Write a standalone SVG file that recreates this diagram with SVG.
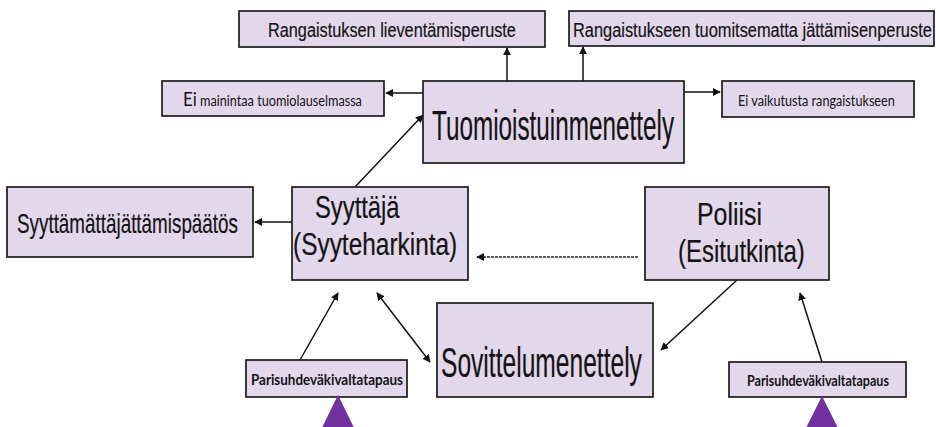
<svg xmlns="http://www.w3.org/2000/svg" width="936" height="427" viewBox="0 0 936 427">
<defs>
<style>
.box{fill:#e3d7ec;stroke:#1c1c1c;stroke-width:1.7}
.t{font-family:"Liberation Sans",Arial,sans-serif;fill:#141414;stroke:#141414;stroke-width:0.2}
.c{font-family:Lato,"Liberation Sans",sans-serif;fill:#141414}
.ln{stroke:#111;stroke-width:1.5;fill:none}
.tri{fill:#7030a0}
</style>
<marker id="ah" viewBox="0 0 10 10" refX="9" refY="5" markerWidth="8" markerHeight="8" markerUnits="userSpaceOnUse" orient="auto-start-reverse">
<path d="M0,0 L10,5 L0,10 z" fill="#111"/>
</marker>
</defs>
<rect width="936" height="427" fill="#fff"/>
<g id="connectors">
<line class="ln" x1="507" y1="81" x2="507" y2="48" marker-end="url(#ah)"/>
<line class="ln" x1="583" y1="81" x2="583" y2="47" marker-end="url(#ah)"/>
<line class="ln" x1="423" y1="93" x2="386" y2="93" marker-end="url(#ah)"/>
<line class="ln" x1="684" y1="92" x2="720" y2="92" marker-end="url(#ah)"/>
<line class="ln" x1="355" y1="187" x2="423" y2="115" marker-end="url(#ah)"/>
<line class="ln" x1="292" y1="222" x2="255" y2="222" marker-end="url(#ah)"/>
<line x1="638" y1="257" x2="477" y2="257" stroke="#222" stroke-width="1.5" stroke-dasharray="3,1" marker-end="url(#ah)"/>
<line class="ln" x1="300" y1="360" x2="338" y2="293" marker-end="url(#ah)"/>
<line class="ln" x1="377" y1="293" x2="430" y2="362" marker-start="url(#ah)" marker-end="url(#ah)"/>
<line class="ln" x1="737" y1="280" x2="661" y2="350" marker-end="url(#ah)"/>
<line class="ln" x1="822" y1="362" x2="800" y2="293" marker-end="url(#ah)"/>
</g>
<g id="lieventamisperuste">
<rect class="box" x="239" y="11" width="306" height="36"/>
<text class="t" transform="translate(268,37) scale(0.7755,1)" font-size="21" stroke-width="0.1">Rangaistuksen lieventämisperuste</text>
</g>
<g id="tuomitsematta">
<rect class="box" x="569" y="11" width="365" height="35"/>
<text class="t" transform="translate(573,37) scale(0.7806,1)" font-size="21" stroke-width="0.1">Rangaistukseen tuomitsematta jättämisenperuste</text>
</g>
<g id="ei-mainintaa">
<rect class="box" x="162" y="81" width="222" height="35"/>
<text class="c" transform="translate(183,106) scale(0.84,1)" font-size="15" textLength="213" lengthAdjust="spacingAndGlyphs"><tspan font-size="20">Ei</tspan> mainintaa tuomiolauselmassa</text>
</g>
<g id="tuomioistuin">
<rect class="box" x="423" y="81" width="261" height="82"/>
<text class="t" transform="translate(432,140) scale(0.5784,1)" font-size="42" stroke-width="0.35">Tuomioistuinmenettely</text>
</g>
<g id="ei-vaikutusta">
<rect class="box" x="722" y="81" width="192" height="36"/>
<text class="c" transform="translate(738,106) scale(0.8,1)" font-size="16" textLength="196" lengthAdjust="spacingAndGlyphs">Ei vaikutusta rangaistukseen</text>
</g>
<g id="syyttamatta">
<rect class="box" x="7" y="187" width="246" height="70"/>
<text class="t" transform="translate(17,233) scale(0.673,1)" font-size="28">Syyttämättäjättämispäätös</text>
</g>
<g id="syyttaja">
<rect class="box" x="292" y="187" width="176" height="93"/>
<text class="t" transform="translate(315,218) scale(0.78,1)" font-size="30.5">Syyttäjä</text>
<text class="t" transform="translate(293,255) scale(0.801,1)" font-size="30.5">(Syyteharkinta)</text>
</g>
<g id="poliisi">
<rect class="box" x="645" y="187" width="184" height="93"/>
<text class="t" transform="translate(697,225) scale(0.816,1)" font-size="30.5">Poliisi</text>
<text class="t" transform="translate(678,262) scale(0.788,1)" font-size="30.5">(Esitutkinta)</text>
</g>
<g id="sovittelu">
<rect class="box" x="437" y="303" width="216" height="94"/>
<text class="t" transform="translate(441,377) scale(0.572,1)" font-size="43" stroke-width="0.35">Sovittelumenettely</text>
</g>
<g id="parisuhde-vasen">
<rect class="box" x="246" y="360" width="161" height="37"/>
<text class="c" transform="translate(251,385) scale(0.88,1)" font-size="15" font-weight="bold" textLength="172.7" lengthAdjust="spacingAndGlyphs">Parisuhdeväkivaltatapaus</text>
<polygon class="tri" points="338,395 316,440 360,440"/>
</g>
<g id="parisuhde-oikea">
<rect class="box" x="729" y="362" width="177" height="35"/>
<text class="c" transform="translate(747,386) scale(0.83,1)" font-size="15" font-weight="bold" textLength="171" lengthAdjust="spacingAndGlyphs">Parisuhdeväkivaltatapaus</text>
<polygon class="tri" points="822,396 800,440 844,440"/>
</g>
</svg>
